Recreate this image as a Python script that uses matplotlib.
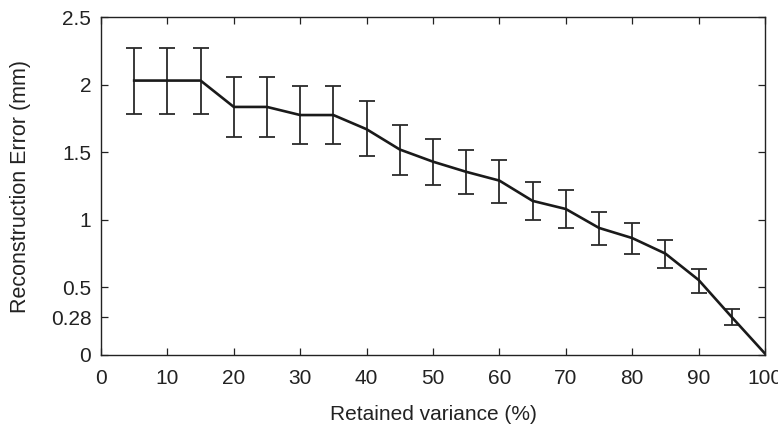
import matplotlib
matplotlib.use("Agg")
import matplotlib.pyplot as plt

# retained variance (%) and reconstruction error (mm)
variance = [5, 10, 15, 20, 25, 30, 35, 40, 45, 50, 55, 60, 65, 70, 75, 80, 85, 90, 95, 100]
error = [2.03, 2.03, 2.03, 1.835, 1.835, 1.775, 1.775, 1.67, 1.52, 1.43, 1.355, 1.29, 1.14, 1.08, 0.94, 0.865, 0.75, 0.555, 0.28, 0.01]
err_upper = [2.27, 2.27, 2.27, 2.055, 2.055, 1.99, 1.99, 1.88, 1.705, 1.60, 1.52, 1.44, 1.28, 1.22, 1.06, 0.975, 0.85, 0.635, 0.34, 0.01]
err_lower = [1.785, 1.785, 1.785, 1.61, 1.61, 1.56, 1.56, 1.47, 1.335, 1.255, 1.19, 1.125, 0.995, 0.94, 0.815, 0.745, 0.645, 0.455, 0.22, 0.01]

yticks = [0, 0.28, 0.5, 1, 1.5, 2, 2.5]
ytick_labels = ["0", "0.28", "0.5", "1", "1.5", "2", "2.5"]
xticks = [0, 10, 20, 30, 40, 50, 60, 70, 80, 90, 100]

plt.rcParams["font.family"] = ["Liberation Sans", "DejaVu Sans"]

fig = plt.figure(figsize=(7.78, 4.26), dpi=100)
ax = fig.add_axes([0.1298, 0.1667, 0.8535, 0.7933])

lower = [e - l for e, l in zip(error, err_lower)]
upper = [u - e for e, u in zip(error, err_upper)]
# last point has no visible bar
ax.errorbar(variance[:-1], error[:-1], yerr=[lower[:-1], upper[:-1]], fmt="none",
            ecolor="#2a2a2a", elinewidth=1.3, capsize=6, capthick=1.3)
ax.plot(variance, error, color="#1a1a1a", linewidth=1.9)

ax.set_xlim(0, 100)
ax.set_ylim(0, 2.5)
ax.set_xticks(xticks)
ax.set_yticks(yticks)
ax.set_yticklabels(ytick_labels)
ax.tick_params(direction="in", top=True, right=True, length=5, width=0.9,
               labelsize=15, color="#222222", labelcolor="#222222")
ax.tick_params(axis="y", pad=7)
ax.tick_params(axis="x", pad=10)
for s in ax.spines.values():
    s.set_linewidth(1.0)
    s.set_color("#222222")

ax.set_xlabel("Retained variance (%)", fontsize=15, color="#222222", labelpad=12)
ax.set_ylabel("Reconstruction Error (mm)", fontsize=15.5, color="#222222", labelpad=14)

fig.savefig("out.png", dpi=100)
